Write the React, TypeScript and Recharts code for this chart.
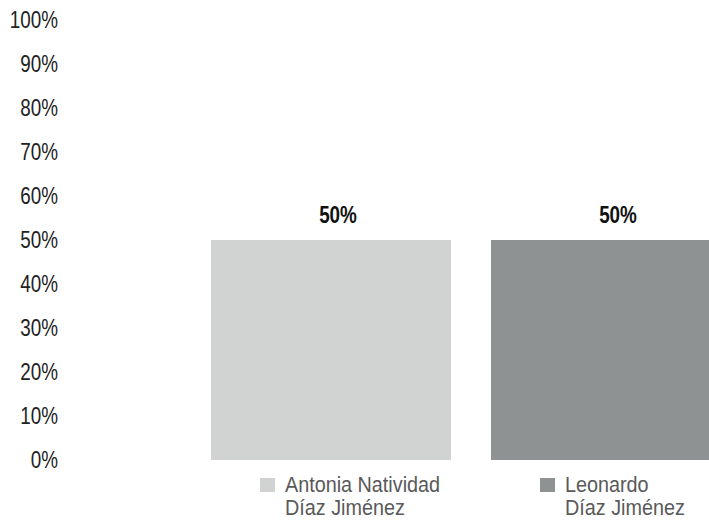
import { BarChart, Bar, XAxis, YAxis, Cell, LabelList } from 'recharts'

const candidates = ['Antonia Natividad|Díaz Jiménez', 'Leonardo|Díaz Jiménez']
const shares = [0.5, 0.5]
const barColors = ['#d1d3d2', '#8f9292']
const yTicks = [0, 0.1, 0.2, 0.3, 0.4, 0.5, 0.6, 0.7, 0.8, 0.9, 1]

// no narrow font installed, so squeeze Liberation Sans horizontally
const FONT = "'Liberation Sans', Arial, sans-serif"
const SQUEEZE = 0.82

const pct = (v: number) => `${Math.round(v * 100)}%`

function PctTick(props: any) {
  const { x, y, payload } = props
  return (
    <text
      transform={`translate(${x},${y}) scale(${SQUEEZE},1)`}
      textAnchor="end"
      dy="0.36em"
      fill="#222"
      fontSize={23}
      fontFamily={FONT}
    >
      {pct(payload.value)}
    </text>
  )
}

// tick under each bar: coloured square + two line name, like a legend
function NameTick(props: any) {
  const { x, y, payload } = props
  const lines = String(payload.value).split('|')
  const color = barColors[payload.index] ?? '#999'
  return (
    <g>
      <rect x={x - 71} y={y + 18} width={15} height={14} fill={color} />
      <text
        transform={`translate(${x - 46},${y + 32}) scale(0.9,1)`}
        fill="#595959"
        fontSize={22}
        fontFamily={FONT}
      >
        {lines.map((l, i) => (
          <tspan key={i} x={0} dy={i === 0 ? 0 : 23}>
            {l}
          </tspan>
        ))}
      </text>
    </g>
  )
}

function TopLabel(props: any) {
  const { x, y, width, value } = props
  return (
    <text
      transform={`translate(${x + width / 2 + 7},${y - 17}) scale(${SQUEEZE},1)`}
      textAnchor="middle"
      fontSize={23}
      fontWeight="bold"
      fontFamily={FONT}
      fill="#111"
    >
      {pct(value)}
    </text>
  )
}

export default function App() {
  const data = candidates.map((name, i) => ({ name, value: shares[i] }))

  return (
    <div
      style={{
        position: 'absolute',
        left: 0,
        top: 0,
        width: 709,
        height: 520,
        overflow: 'hidden',
        background: '#fff',
      }}
    >
      <BarChart
        width={760}
        height={520}
        data={data}
        margin={{ top: 20, right: 9, bottom: 0, left: 0 }}
        barCategoryGap={20}
      >
        <XAxis
          dataKey="name"
          height={60}
          padding={{ left: 120, right: 0 }}
          axisLine={false}
          tickLine={false}
          tickSize={0}
          tickMargin={0}
          interval={0}
          tick={<NameTick />}
        />
        <YAxis
          width={71}
          domain={[0, 1]}
          ticks={yTicks}
          axisLine={false}
          tickLine={false}
          tickSize={0}
          tickMargin={13}
          tick={<PctTick />}
        />
        <Bar dataKey="value" isAnimationActive={false}>
          {data.map((d, i) => (
            <Cell key={`cell-${i}`} fill={barColors[i]} />
          ))}
          <LabelList dataKey="value" content={<TopLabel />} />
        </Bar>
      </BarChart>
    </div>
  )
}
